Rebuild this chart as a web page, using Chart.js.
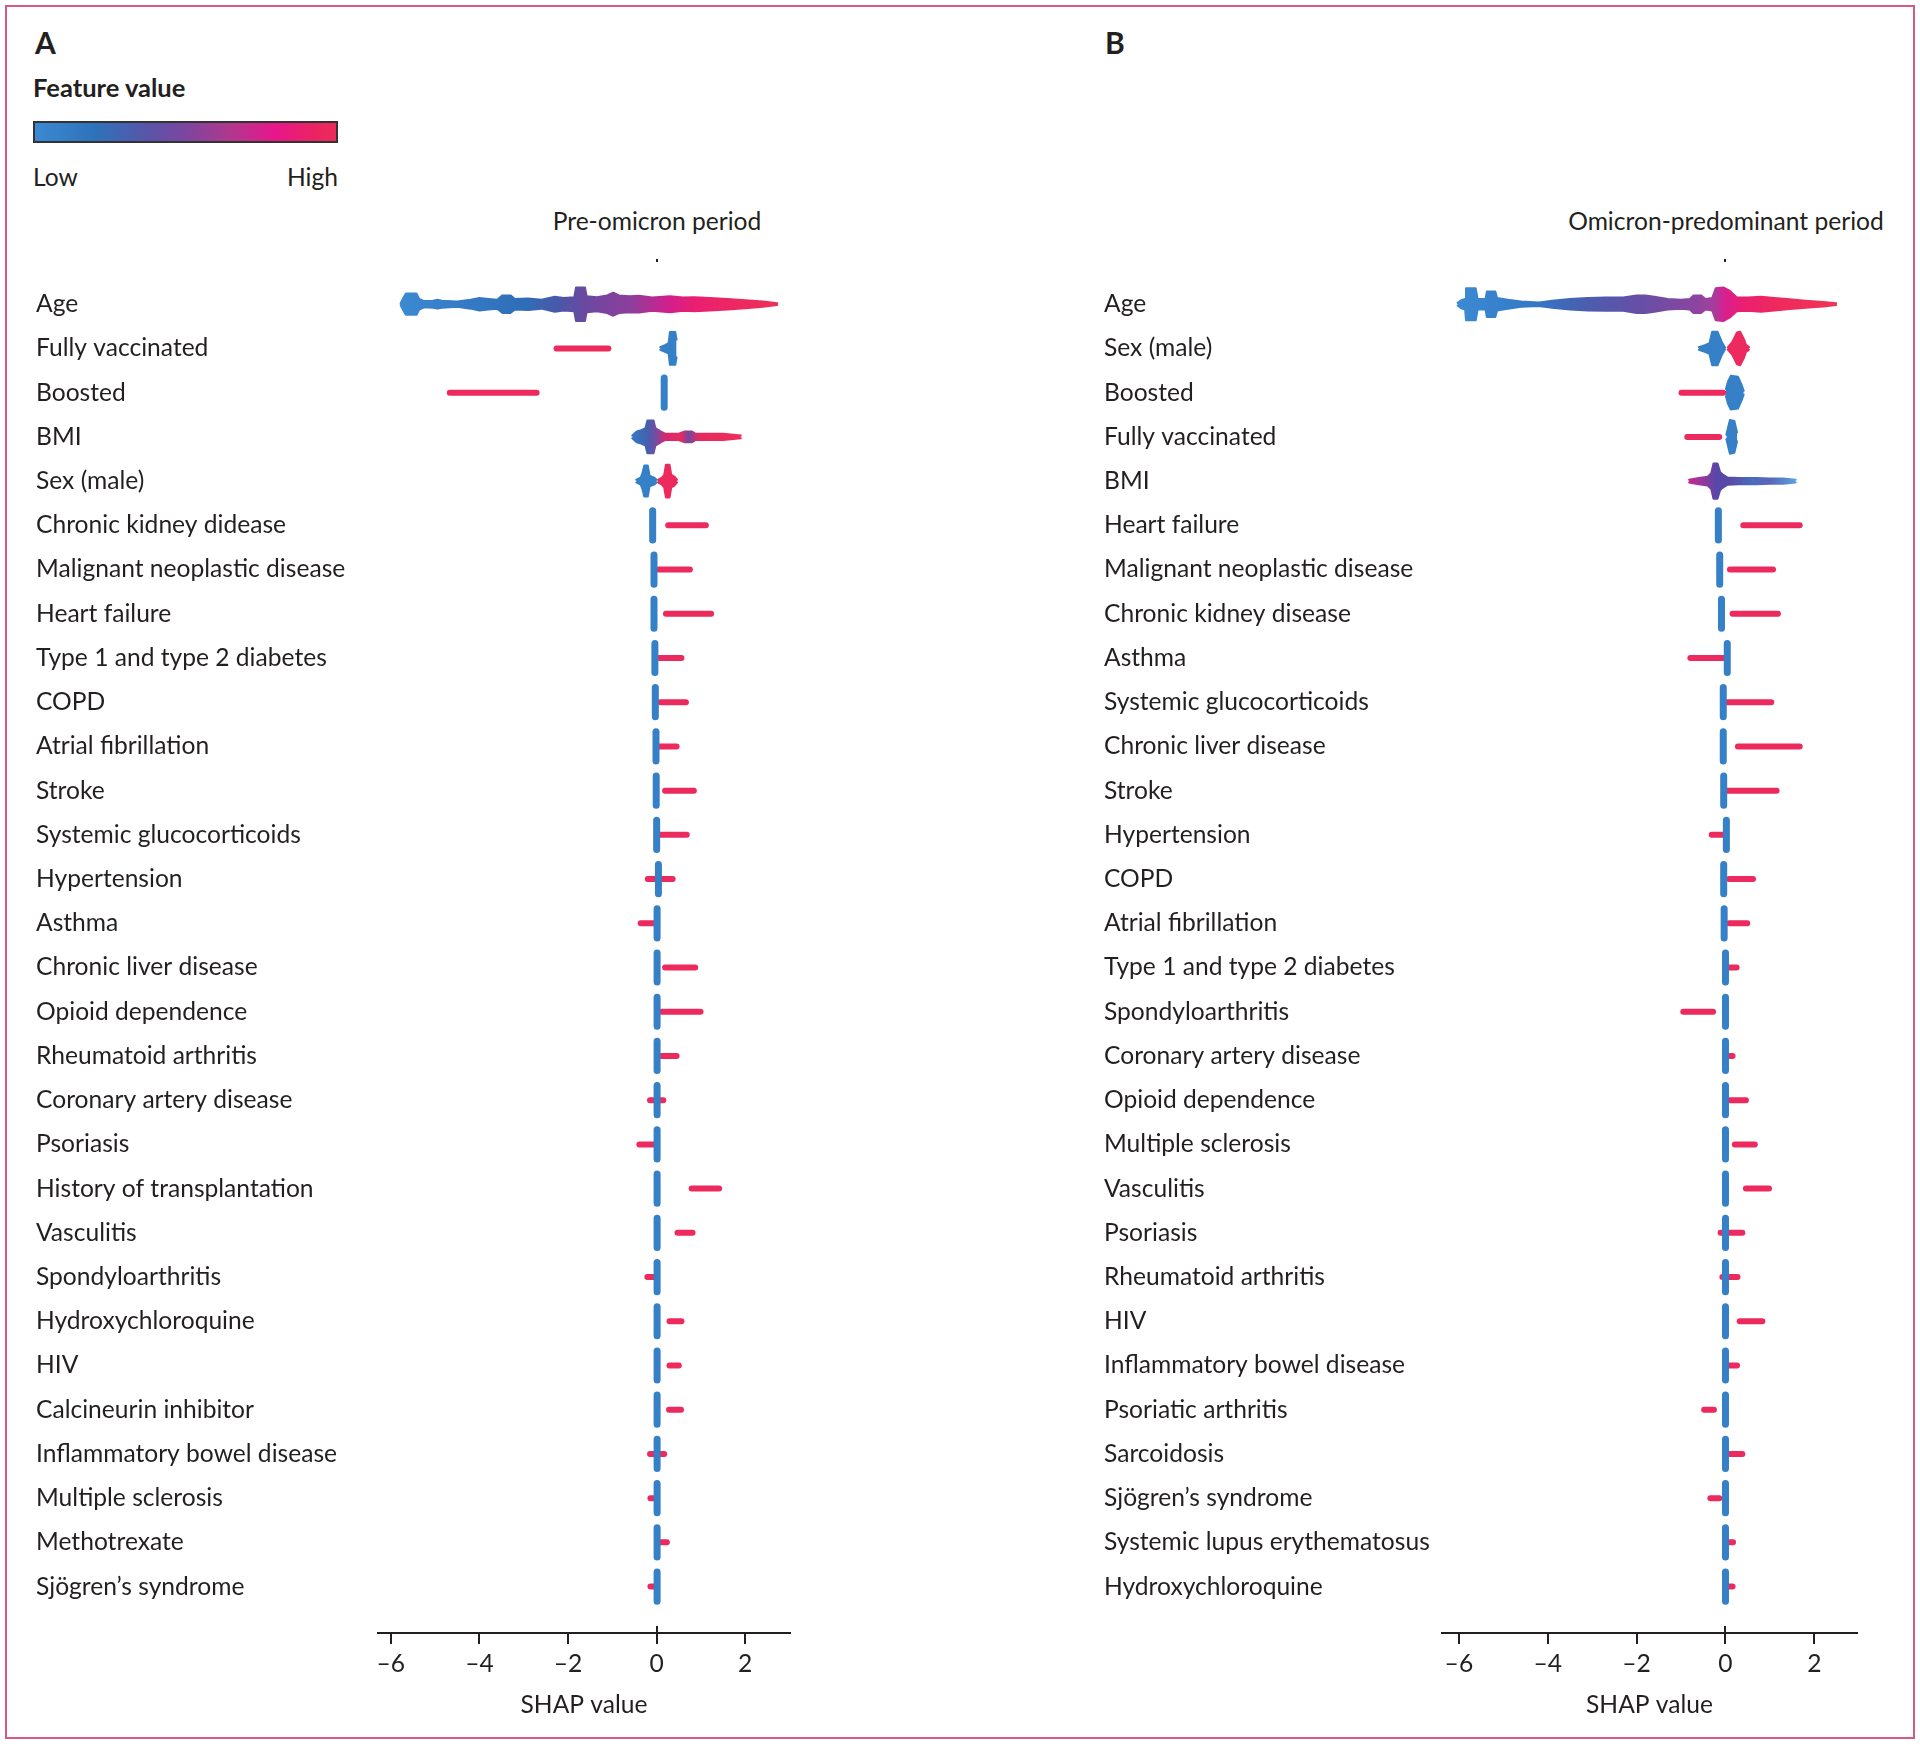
<!DOCTYPE html>
<html>
<head>
<meta charset="utf-8">
<title>SHAP summary – pre-omicron and omicron-predominant periods</title>
<script src="https://cdn.jsdelivr.net/npm/chart.js@4.4.1/dist/chart.umd.min.js"></script>
<style>
  body { margin: 0; width: 1920px; height: 1745px; background: #fff; font-family: Lato, "Open Sans", sans-serif; color: #231f20; position: relative; overflow: hidden; }
  #frame { position: absolute; left: 5px; top: 5px; width: 1906px; height: 1730px; border: 2px solid #d65a80; }
  .letter { position: absolute; top: 27px; font-size: 30px; line-height: 30px; font-weight: 700; }
  .legend-title { position: absolute; left: 33px; top: 75px; font-size: 25.5px; line-height: 25.5px; font-weight: 700; }
  .bar { position: absolute; left: 33px; top: 121px; width: 301px; height: 18px; border: 2px solid #333;
         background: linear-gradient(to right, #3b8ad2 0%, #2e72ba 20%, #5a54a8 38%, #7c46a0 50%, #b0388e 65%, #e8168a 80%, #ea2462 93%, #ec2c58 100%); }
  .lowhigh { position: absolute; top: 165px; font-size: 24.6px; line-height: 24.6px; }
  .period { position: absolute; top: 209px; font-size: 24.6px; line-height: 24.6px; transform: translateX(-50%); white-space: nowrap; }
  .wrap { position: absolute; top: 0; width: 960px; height: 1745px; }
</style>
</head>
<body>
<div id="frame"></div>
<div class="letter" style="left:35px">A</div>
<div class="letter" style="left:1105px">B</div>
<div class="legend-title">Feature value</div>
<div class="bar"></div>
<div class="lowhigh" style="left:33px">Low</div>
<div class="lowhigh" style="left:278px;width:60px;text-align:right">High</div>
<div class="period" style="left:657px">Pre-omicron period</div>
<div class="period" style="left:1726px">Omicron-predominant period</div>
<div class="wrap" style="left:0"><canvas id="chartA" width="960" height="1745"></canvas></div>
<div class="wrap" style="left:960px"><canvas id="chartB" width="960" height="1745"></canvas></div>

<script>
// ---- data: panel A (pre-omicron) ----
const xTicks = [-6, -4, -2, 0, 2];

const featuresA = ['Age', 'Fully vaccinated', 'Boosted', 'BMI', 'Sex (male)', 'Chronic kidney didease',
  'Malignant neoplastic disease', 'Heart failure', 'Type 1 and type 2 diabetes', 'COPD', 'Atrial fibrillation',
  'Stroke', 'Systemic glucocorticoids', 'Hypertension', 'Asthma', 'Chronic liver disease', 'Opioid dependence',
  'Rheumatoid arthritis', 'Coronary artery disease', 'Psoriasis', 'History of transplantation', 'Vasculitis',
  'Spondyloarthritis', 'Hydroxychloroquine', 'HIV', 'Calcineurin inhibitor', 'Inflammatory bowel disease',
  'Multiple sclerosis', 'Methotrexate', 'Sjögren’s syndrome'];

// SHAP value where the low-value (blue) points pile up; null = drawn as a profile below
const lowA = [null, null, 0.17, null, null, -0.09, -0.06, -0.06, -0.04, -0.03, -0.015,
  -0.01, 0, 0.04, 0.01, 0.01, 0.01, 0.01, 0.01, 0.01, 0.01, 0.01, 0.01, 0.01, 0.01, 0.01, 0.01, 0.01, 0.01, 0.01];

// SHAP range of the high-value (red) points
const highA = [null, [-2.26, -1.09], [-4.67, -2.71], null, null, [0.26, 1.11], [0.04, 0.75], [0.21, 1.23],
  [0.04, 0.56], [0.08, 0.66], [0.06, 0.45], [0.19, 0.84], [0.08, 0.68], [-0.2, 0.36], [-0.36, -0.06],
  [0.19, 0.87], [0.11, 0.99], [0.08, 0.45], [-0.15, 0.15], [-0.39, -0.06], [0.79, 1.41], [0.47, 0.81],
  [-0.21, -0.04], [0.29, 0.56], [0.29, 0.5], [0.28, 0.55], [-0.15, 0.17], [-0.14, -0.02], [0.08, 0.23], [-0.14, -0.02]];

// swarm profiles: SHAP value and half-spread of the swarm (in rows)
const ageXA = [-5.78, -5.72, -5.66, -5.42, -5.36, -5.25, -5.05, -4.95, -4.85, -4.5, -4.2, -4.0, -3.8, -3.6, -3.48,
  -3.3, -3.2, -2.9, -2.6, -2.3, -2.1, -1.86, -1.82, -1.62, -1.58, -1.35, -1.12, -0.98, -0.85, -0.6, -0.4, -0.1,
  0.3, 0.6, 0.85, 1.2, 1.6, 2.0, 2.4, 2.72];
const ageSpreadA = [0.02, 0.14, 0.24, 0.24, 0.12, 0.07, 0.08, 0.1, 0.08, 0.06, 0.1, 0.14, 0.12, 0.1, 0.2,
  0.2, 0.12, 0.13, 0.1, 0.17, 0.14, 0.16, 0.38, 0.38, 0.18, 0.16, 0.2, 0.26, 0.2, 0.18, 0.19, 0.15,
  0.18, 0.15, 0.16, 0.14, 0.12, 0.09, 0.06, 0.02];
const bmiXA = [-0.55, -0.45, -0.35, -0.25, -0.21, -0.07, -0.03, 0.1, 0.2, 0.5, 0.62, 0.8, 0.88, 1.0, 1.5, 1.9];
const bmiSpreadA = [0.03, 0.12, 0.15, 0.2, 0.37, 0.37, 0.2, 0.12, 0.07, 0.07, 0.12, 0.12, 0.07, 0.07, 0.07, 0.03];
const fvLowXA = [0.08, 0.2, 0.27, 0.3, 0.42, 0.45];
const fvLowSpreadA = [0.03, 0.08, 0.12, 0.37, 0.37, 0.2];
const sexLowXA = [-0.46, -0.36, -0.32, -0.28, -0.2, -0.16, -0.06, 0.0];
const sexLowSpreadA = [0.03, 0.08, 0.18, 0.35, 0.35, 0.12, 0.08, 0.03];
const sexHighXA = [0.03, 0.12, 0.17, 0.21, 0.29, 0.33, 0.4, 0.46];
const sexHighSpreadA = [0.03, 0.08, 0.14, 0.37, 0.37, 0.14, 0.1, 0.03];

// ---- data: panel B (omicron-predominant) ----
const featuresB = ['Age', 'Sex (male)', 'Boosted', 'Fully vaccinated', 'BMI', 'Heart failure',
  'Malignant neoplastic disease', 'Chronic kidney disease', 'Asthma', 'Systemic glucocorticoids',
  'Chronic liver disease', 'Stroke', 'Hypertension', 'COPD', 'Atrial fibrillation', 'Type 1 and type 2 diabetes',
  'Spondyloarthritis', 'Coronary artery disease', 'Opioid dependence', 'Multiple sclerosis', 'Vasculitis',
  'Psoriasis', 'Rheumatoid arthritis', 'HIV', 'Inflammatory bowel disease', 'Psoriatic arthritis', 'Sarcoidosis',
  'Sjögren’s syndrome', 'Systemic lupus erythematosus', 'Hydroxychloroquine'];

const lowB = [null, null, null, null, null, -0.16, -0.13, -0.09, 0.04, -0.05, -0.05, -0.04, 0.02, -0.04, -0.03,
  0, 0, 0, 0, 0, 0, 0, 0, 0, 0, 0, 0, 0, 0, 0];

const highB = [null, null, [-0.99, -0.05], [-0.86, -0.14], null, [0.4, 1.67], [0.1, 1.07], [0.16, 1.18],
  [-0.79, -0.04], [0.04, 1.03], [0.28, 1.67], [0.04, 1.15], [-0.31, -0.01], [0.08, 0.62], [0.08, 0.49],
  [0.04, 0.25], [-0.95, -0.28], [0.02, 0.16], [0.06, 0.46], [0.21, 0.66], [0.46, 0.98], [-0.11, 0.38],
  [-0.07, 0.27], [0.32, 0.83], [0.06, 0.26], [-0.48, -0.26], [0.07, 0.38], [-0.34, -0.14], [0.04, 0.17], [0.04, 0.16]];

const ageXB = [-6.03, -5.95, -5.86, -5.84, -5.62, -5.58, -5.4, -5.37, -5.18, -5.14, -4.9, -4.6, -4.2, -3.9, -3.5,
  -3.1, -2.7, -2.3, -2.0, -1.8, -1.6, -1.3, -1.0, -0.8, -0.72, -0.55, -0.45, -0.3, -0.22, -0.05, 0.1, 0.25,
  0.5, 0.8, 1.1, 1.45, 1.8, 2.2, 2.49];
const ageSpreadB = [0.03, 0.09, 0.12, 0.36, 0.36, 0.12, 0.12, 0.29, 0.29, 0.14, 0.1, 0.06, 0.04, 0.08, 0.12,
  0.14, 0.15, 0.15, 0.2, 0.2, 0.17, 0.12, 0.1, 0.12, 0.2, 0.2, 0.12, 0.14, 0.36, 0.38, 0.3, 0.16,
  0.15, 0.17, 0.14, 0.11, 0.08, 0.05, 0.02];
const bmiXB = [-0.82, -0.6, -0.4, -0.32, -0.27, -0.18, -0.12, -0.05, 0.05, 0.3, 0.7, 1.0, 1.3, 1.58];
const bmiSpreadB = [0.03, 0.07, 0.1, 0.18, 0.4, 0.4, 0.2, 0.14, 0.08, 0.07, 0.07, 0.06, 0.06, 0.03];
const sexLowXB = [-0.6, -0.45, -0.36, -0.3, -0.18, -0.08, -0.01];
const sexLowSpreadB = [0.03, 0.08, 0.12, 0.38, 0.38, 0.14, 0.02];
const sexHighXB = [0.05, 0.15, 0.26, 0.33, 0.42, 0.46, 0.53];
const sexHighSpreadB = [0.02, 0.14, 0.36, 0.38, 0.2, 0.08, 0.03];
const boostLowXB = [0.01, 0.06, 0.12, 0.28, 0.36, 0.41];
const boostLowSpreadB = [0.08, 0.26, 0.38, 0.36, 0.18, 0.04];
const fvLowXB = [0.02, 0.06, 0.1, 0.2, 0.26];
const fvLowSpreadB = [0.05, 0.22, 0.38, 0.36, 0.1];

// ---- styling ----
const INK = '#231f20';
const BLUE = '#3580c6';
const RED = '#ec2a5d';
const FONT = { family: 'Lato, "Open Sans", sans-serif', size: 24.6 };
const SPIKE = 0.33;

// colour along a continuous feature (feature value rises left to right)
const ageStopsA = [[-5.8, '#3b8ad2'], [-3.0, '#2f6db8'], [-2.2, '#4a58a8'], [-1.6, '#6c48a0'], [-0.6, '#8c3f9c'],
  [0.3, '#d41f8c'], [0.9, '#ea1f70'], [2.7, '#ee3056']];
const bmiStopsA = [[-0.55, '#3478c4'], [-0.2, '#4560ad'], [0.0, '#7a4aa0'], [0.2, '#d6286e'], [0.55, '#e62a5e'],
  [0.72, '#7048a0'], [0.95, '#e62a5e'], [1.9, '#ee2d5a']];
const ageStopsB = [[-6.0, '#3b8ad2'], [-4.3, '#3578c6'], [-3.3, '#4760b0'], [-2.0, '#6450a6'], [-0.7, '#8a45a0'],
  [-0.3, '#a0409e'], [0.0, '#d81f8e'], [0.4, '#ea1f72'], [1.2, '#ee2a5c'], [2.5, '#ef3555']];
const bmiStopsB = [[-0.82, '#c02a90'], [-0.45, '#8a3a9e'], [-0.2, '#5548a8'], [0.1, '#5a4aa6'], [0.6, '#4a6cbc'],
  [1.0, '#5a66b8'], [1.58, '#5aa0e0']];

function gradient(stops) {
  return function (ctx) {
    const chart = ctx.chart;
    const sc = chart.scales.x;
    if (!chart.chartArea || !sc) return stops[0][1];
    const x0 = sc.getPixelForValue(stops[0][0]);
    const x1 = sc.getPixelForValue(stops[stops.length - 1][0]);
    const g = chart.ctx.createLinearGradient(x0, 0, x1, 0);
    stops.forEach(s => g.addColorStop((sc.getPixelForValue(s[0]) - x0) / (x1 - x0), s[1]));
    return g;
  };
}

function stroke(points, colour, width) {
  return { data: points, borderColor: colour, borderWidth: width, borderCapStyle: 'round',
    borderJoinStyle: 'round', pointRadius: 0, fill: false, tension: 0 };
}

function buildMarks(low, high, swarms) {
  const sets = [];
  swarms.forEach(sw => {
    const upper = stroke(sw.xs.map((x, i) => ({ x: x, y: sw.row - sw.spread[i] })), sw.paint, 2);
    const lower = stroke(sw.xs.map((x, i) => ({ x: x, y: sw.row + sw.spread[i] })), sw.paint, 2);
    lower.fill = '-1';
    lower.backgroundColor = sw.paint;
    sets.push(upper, lower);
  });
  low.forEach((v, row) => {
    if (v === null) return;
    sets.push(stroke([{ x: v, y: row - SPIKE }, { x: v, y: row + SPIKE }], BLUE, 7));
  });
  high.forEach((r, row) => {
    if (r === null) return;
    sets.push(stroke([{ x: r[0], y: row }, { x: r[1], y: row }], RED, 6));
  });
  return sets;
}

// short marks at zero: dot on top, tick poking up through the axis
const zeroMarks = {
  id: 'zeroMarks',
  afterDraw(chart) {
    const x = Math.round(chart.scales.x.getPixelForValue(0));
    const { top, bottom } = chart.chartArea;
    const c = chart.ctx;
    c.save();
    c.strokeStyle = INK;
    c.lineWidth = 2;
    c.beginPath();
    c.moveTo(x, top - 1); c.lineTo(x, top + 2);
    c.moveTo(x, bottom - 7); c.lineTo(x, bottom);
    c.stroke();
    c.restore();
  }
};

function makeChart(id, features, marks, xMin, xMax, padLeft, axisWidth, padRight) {
  return new Chart(document.getElementById(id), {
    type: 'line',
    data: { datasets: marks },
    options: {
      responsive: false,
      animation: false,
      events: [],
      layout: { padding: { left: padLeft, right: padRight, top: 260, bottom: 12 } },
      plugins: { legend: { display: false }, tooltip: { enabled: false } },
      scales: {
        x: {
          type: 'linear', min: xMin, max: xMax,
          afterBuildTicks: s => { s.ticks = xTicks.map(v => ({ value: v })); },
          afterFit: s => { s.height = 100; },
          grid: { drawOnChartArea: false, drawTicks: true, tickLength: 11, color: INK, lineWidth: 2 },
          border: { display: true, color: INK, width: 2 },
          ticks: { font: FONT, color: INK, padding: 5,
            callback: v => (v < 0 ? '\u2013' + Math.abs(v) : String(v)) },
          title: { display: true, text: 'SHAP value', font: FONT, color: INK, padding: { top: 0, bottom: 13 } }
        },
        y: {
          type: 'linear', reverse: true, min: -1, max: 30.05,
          afterBuildTicks: s => { s.ticks = features.map((f, i) => ({ value: i })); },
          afterFit: s => { s.width = axisWidth; },
          grid: { display: false },
          border: { display: false },
          ticks: { crossAlign: 'far', padding: 0, font: FONT, color: INK, callback: v => features[v] }
        }
      }
    },
    plugins: [zeroMarks]
  });
}

const swarmsA = [
  { row: 1, xs: fvLowXA, spread: fvLowSpreadA, paint: BLUE },
  { row: 4, xs: sexLowXA, spread: sexLowSpreadA, paint: BLUE },
  { row: 0, xs: ageXA, spread: ageSpreadA, paint: gradient(ageStopsA) },
  { row: 3, xs: bmiXA, spread: bmiSpreadA, paint: gradient(bmiStopsA) },
  { row: 4, xs: sexHighXA, spread: sexHighSpreadA, paint: RED }
];
const swarmsB = [
  { row: 1, xs: sexLowXB, spread: sexLowSpreadB, paint: BLUE },
  { row: 2, xs: boostLowXB, spread: boostLowSpreadB, paint: BLUE },
  { row: 3, xs: fvLowXB, spread: fvLowSpreadB, paint: BLUE },
  { row: 0, xs: ageXB, spread: ageSpreadB, paint: gradient(ageStopsB) },
  { row: 4, xs: bmiXB, spread: bmiSpreadB, paint: gradient(bmiStopsB) },
  { row: 1, xs: sexHighXB, spread: sexHighSpreadB, paint: RED }
];

makeChart('chartA', featuresA, buildMarks(lowA, highA, swarmsA), -6.29, 3.01, 36, 342, 170);
makeChart('chartB', featuresB, buildMarks(lowB, highB, swarmsB), -6.38, 2.96, 144, 338, 63);
</script>
</body>
</html>
